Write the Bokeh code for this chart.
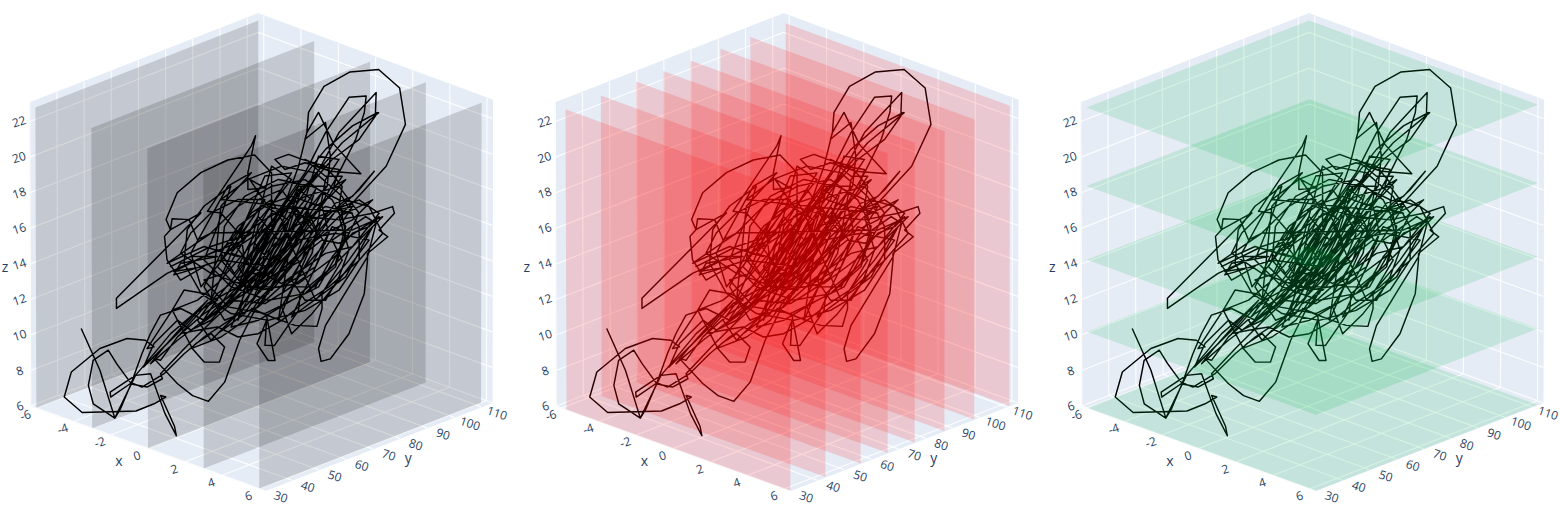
import numpy as np
from bokeh.plotting import figure
from bokeh.layouts import row
from bokeh.models import Range1d
from bokeh.core.properties import value
from bokeh.embed import file_html
from bokeh.resources import INLINE

path_x = [-4.65,-4.17,-2.83,-3.32,-3.36,-3.07,-2.85,-2.59,-2.06,-1.45,-.92,-.39,.22,.75,1.27,1.89,2.59,3.07,2.41,1.71,1.23,.75,.13,-.57,-1.1,-1.62,-2.28,
-2.94,-2.76,-2.98,-3.46,-4.17,-4.91,-5.1,-4.06,-3.36,-2.76,-2.76,-2.46,-2.59,-.74,-.05,-1.85,-2.85,-3.24,-3.9,-3.89,-3.38,-2.94,-2.54,-2.59,-1.93,-1.27,-.66,-.04,
-.66,-1.45,-2.15,-2.59,-2.76,-2.15,-1.75,-1.34,-.92,-.53,-.13,.31,.83,1.36,1.97,2.41,2.98,2.59,1.93,1.18,.57,-.04,-.66,-1.45,-1.97,-2.5,-3.07,-3.38,-3.73,-3.95,-4.34,-4.47,-4.34,-2.83,-3.24,-2.76,-2.32,-1.71,
-1.1,-1.45,-1.97,-2.28,-2.15,-1.75,-1.45,-1.05,-.92,-1.27,-1.67,-1.8,-1.01,-.39,.04,.66,1.18,1.62,2.06,2.15,1.71,1.1,.75,.39,.66,1.18,1.84,2.63,1.93,1.53,1.23,1.18,1.71,1.84,1.75,1.18,.57,.04,-.57,
.57,1.01,1.23,1.27,.98,.69,1.27,3.04,3.79,3.29,2.81,2.41,1.71,1.01,.31,-.39,-1.1,-.57,-.04,.57,1.18,1.71,2.32,2.7,2.72,2.5,2.06,1.62,1.01,.31,-.31,-.92,-1.53,-1.01,-.39,.22,.83,1.45,2.06,2.73,3.01,3.1,2.15,1.18,.31,
.31,-.13,-.83,-1.53,-2.15,-2.44,-2.32,-2.48,-2.41,-2.06,-1.45,-2.24,-1.1,-.57,-1.45,-2.41,-1.27,-1.62,-1.84,-2.28,-2.32,-1.53,-3.73,-3.73,-2.41,-1.27,-.39,-1.01,-1.36,-.22,-.11,-.31,-.31,.13,-.26,.22,
1.18,2.06,2.94,3.46,3.51,3.11,3.33,2.81,2.81,2.72,2.32,1.84,1.6,1.53,1.71,2.32,2.81,3.03,2.76,1.89,2.15,1.62,1.62,1.49,.92,.31,-.22,.18,.39,.22,-.07,.18,.13,.38,1.01,1.05,1.89,2.59,3.2,2.41,
-1.27,-.57,.31,1.18,1.89,2.24,1.97,1.18,.13,-.83,-1.45,-.92,-.04,.48,-.39,.39,1.18,1.53,.57,1.18,1.89,2.32,1.53,.83,-.04,-.75,-.39,-1.1,-.57,-.04,.57,1.01,.48,.04,.66,1.01,1.36,.75,.22,-.22,.31,.75,.13,-.57,-1.01,-.66,.04,.48,-.04,-.48,.13,.66,1.27,1.71,1.18,.57,-.22,-.75,-.22,.31,.83,.31,-.39,-1.1,-1.62,-1.27,-.75,-.13,.66,1.45,2.24,2.85,3.2,2.59,1.8,1.01,.57,-.04,-.57,-1.1,-1.62,-2.06,-1.36,-.57,.31,.92,1.71,2.41,
-1.01,-.31,.57,1.45,2.15,2.59,2.59,2.06,1.18,.22,-.75,-1.53,-1.97,-1.89,-1.45,-.75,-1.1,-1.45,-.75,.22,1.18,1.97,2.24,2.06,1.36,.48,-.39,-.92,-1.01,-.39,.57,1.45,1.8,1.62,.83,.04,-.48,-.39,.31,1.1,1.36,.92,.22,-.13,.31,.83,.57,1.45,2.32,2.94,2.24,.83,1.62,2.41,1.71,.48,.75,1.71,1.01,-.57,-.04,.83,.13,-1.27,-1.01,-.22,-.83,-1.8,-1.53,-.57,.13,-.57,-1.27,-1.8,-2.06,-1.27,-.04,1.01,2.06,2.59,2.06,1.18,.13,-.92,-1.45,-.92,-.04,.83,1.71,2.41,3.11,2.59,1.53,.48,-.39,-1.1,-.04,1.01,1.97,2.85,2.06,1.36,.83,.57,1.36,1.71,2.06,1.53,1.18,.48,-.22,-.75,.13,.83,.31,
-.57,.13,.75,.31,-.22,-.75,-.04,.57,1.1,.75,.22,-.31,.39,1.01,1.45,1.01,.39,.04,.66,1.27,1.8,2.15,1.71,1.18,1.53,2.06,1.93,2.24,1.84,1.45,.92,.31,-1.01,-1.8,-2.24,-2.06,-1.1,-1.8,-2.32,-1.27,-.22,-.92,-.57,.22,-.04,-.66,-1.27,-1.8,-2.15,-2.76,-3.03,-2.68,-1.97,-1.36,-1.8,-2.5,-2.85,-2.15,-1.45,-.75,.13,.83,1.45,1.89,2.41,2.85,3.11,2.59,2.06,1.62,1.18,.83,1.18,1.71,2.06,2.32,2.06,2.59,2.94,2.41,1.71,1.01,.48,-.04,.13,.66,.31,-.22,-.57,-.22,.31,.83,1.18,.75]
path_y = [39.6,42.8,38.6,44.1,48.1,49.9,51.4,53.1,56.5,60.5,64,67.4,71.4,74.9,78.3,82.3,86.9,90.1,85.8,81.2,78,74.9,70.9,66.3,62.8,59.4,55.1,
50.8,52,50.5,47.4,42.8,37.9,36.7,35.7,40.9,45.6,52,54,53.1,45,40.8,49.4,51.4,48.8,44.5,44.6,47.9,50.8,53.4,53.1,57.4,61.7,65.7,69.7,
65.7,60.5,56,53.1,52,56,58.5,61.2,64,66.6,69.1,72,75.4,78.9,82.9,85.8,89.5,86.9,82.6,77.7,73.7,69.7,65.7,60.5,57.1,53.7,49.9,47.9,45.6,44.2,41.6,40.8,41.6,38.6,48.8,52,54.8,58.8,
62.8,60.5,57.1,55.1,56,58.5,60.5,63.1,64,61.7,59.1,58.3,63.4,67.4,70.3,74.3,77.7,80.6,83.5,84,81.2,77.2,74.9,72.6,74.3,77.7,82,87.2,82.6,80,78,77.7,81.2,82,81.5,77.7,73.7,70.3,66.3,
73.7,76.6,78,78.3,85.8,97,103,98,94.8,91.5,88.3,85.8,81.2,76.6,72,67.4,62.8,66.3,69.7,73.7,77.7,81.2,85.2,88.6,87.8,86.3,83.5,80.6,76.6,72,68,64,60,63.4,67.4,71.4,75.4,79.5,83.5,91.9,89.7,90.2,84,77.7,72,
72,69.1,64.6,60,56,54.1,54.8,53.8,54.2,56.5,60.5,55.4,62.8,66.3,60.5,54.2,61.7,59.4,58,55.1,54.8,60,45.6,45.6,54.2,61.7,67.4,63.4,61.1,68.6,69.3,68,68,70.9,68.3,71.4,
77.7,83.5,89.2,92.6,92.9,90.3,91.8,88.3,88.3,87.8,85.2,82,80.4,80,81.2,85.2,88.3,89.8,88,82.3,84,80.6,80.6,79.7,76,72,68.6,71.1,72.6,71.4,69.5,71.1,70.9,72.5,76.6,76.9,82.3,86.9,90.9,85.8,
61.7,66.3,72,77.7,82.3,84.6,82.9,77.7,70.9,64.6,60.5,64,69.7,73.2,67.4,72.6,77.7,80,73.7,77.7,82.3,85.2,80,75.4,69.7,65.1,67.4,62.8,66.3,69.7,73.7,76.6,73.2,70.3,74.3,76.6,78.9,74.9,71.4,68.6,72,74.9,70.9,66.3,63.4,65.7,70.3,73.2,69.7,66.8,70.9,74.3,78.3,81.2,77.7,73.7,68.6,65.1,68.6,72,75.4,72,67.4,62.8,59.4,61.7,65.1,69.1,74.3,79.5,84.6,88.6,90.9,86.9,81.7,76.6,73.7,69.7,66.3,62.8,59.4,56.5,61.1,66.3,72,76,81.2,85.8,
63.4,68,73.7,79.5,84,86.9,86.9,83.5,77.7,71.4,65.1,60,57.1,57.7,60.5,65.1,62.8,60.5,65.1,71.4,77.7,82.9,84.6,83.5,78.9,73.2,67.4,64,63.4,67.4,73.7,79.5,81.7,80.6,75.4,70.3,66.8,67.4,72,77.2,78.9,76,71.4,69.1,72,75.4,73.7,79.5,85.2,89.2,84.6,75.4,80.6,85.8,81.2,73.2,74.9,81.2,76.6,66.3,69.7,75.4,70.9,61.7,63.4,68.6,64.6,58.3,60,66.3,70.9,66.3,61.7,58.3,56.5,61.7,69.7,76.6,83.5,86.9,83.5,77.7,70.9,64,60.5,64,69.7,75.4,81.2,85.8,90.3,86.9,80,73.2,67.4,62.8,69.7,76.6,82.9,88.6,83.5,78.9,75.4,73.7,78.9,81.2,83.5,80,77.7,73.2,68.6,65.1,70.9,75.4,72,
66.3,70.9,74.9,72,68.6,65.1,69.7,73.7,77.2,74.9,71.4,68,72.6,76.6,79.5,76.6,72.6,70.3,74.3,78.3,81.7,84,81.2,77.7,80,83.5,82.6,84.6,82,79.5,76,72,63.4,58.3,55.4,56.5,62.8,58.3,54.8,61.7,68.6,64,66.3,71.4,69.7,65.7,61.7,58.3,56,52,50.2,52.5,57.1,61.1,58.3,53.7,51.4,56,60.5,65.1,70.9,75.4,79.5,82.3,85.8,88.6,90.3,86.9,83.5,80.6,77.7,75.4,77.7,81.2,83.5,85.2,83.5,86.9,89.2,85.8,81.2,76.6,73.2,69.7,70.9,74.3,72,68.6,66.3,68.6,72,75.4,77.7,74.9]
path_z = [10.26,8.01,6.2,6.2,7.29,8.91,9.99,10.98,11.34,10.71,11.79,12.87,14.85,16.29,17.91,19.35,20.43,21.87,21.15,19.89,18.63,17.19,15.57,13.95,12.69,11.79,11.25,
9.18,9.27,9.63,9.72,9.18,7.92,6.57,6.2,6.2,6.2,6.21,6.57,6.66,6.2,6.2,6.2,7.83,7.74,6.84,6.57,7.29,7.11,7.56,7.83,9.27,10.62,11.79,13.23,
12.15,11.07,9.81,8.55,8.64,7.29,6.66,6.35,7.38,9.63,11.25,12.51,13.77,15.39,17.01,17.37,18.72,17.73,16.47,14.67,13.41,12.15,10.89,9.81,8.91,7.83,7.11,7.38,8.37,9.09,8.55,7.2,6.21,6.2,7.74,8.91,9.99,11.07,
11.79,12.15,12.33,11.25,10.71,9.18,8.46,8.46,9.27,9.99,9.45,9.18,9.81,10.71,11.97,13.23,14.49,15.57,16.83,17.91,18.99,19.35,19.62,19.35,18.81,19.17,18.72,18.59,20.16,21.87,20.79,20.43,21.33,19.53,17.91,16.47,15.03,13.77,12.69,
16.47,18.99,20.79,21.87,22.7,22.7,22.7,22.7,21.24,18.99,17.91,17.01,15.57,14.13,13.05,12.15,11.25,13.05,14.85,16.83,18.63,20.79,22.68,22.7,21.87,20.43,18.63,17.01,15.39,13.77,12.51,11.43,10.53,12.15,13.77,15.39,17.01,18.45,20.79,22.7,21.87,21.87,20.25,17.91,15.75,
18.63,19.58,19.31,18.63,17.55,16.11,15.57,15.21,13.95,12.87,13.59,13.32,14.49,14.13,14.67,13.77,15.39,15.03,16.11,16.16,15.57,16.47,11.88,11.34,13.23,14.31,15.03,16.47,16.56,20.07,20.61,18.63,17.73,17.82,18.27,16.83,
16.29,16.11,16.47,16.83,16.47,15.57,15.21,14.31,13.95,12.15,9.99,8.64,8.51,9.18,10.44,12.51,14.13,15.93,16.29,15.03,13.95,12.15,11.34,10.39,10.44,10.89,11.34,10.98,8.55,8.55,9.45,10.71,9.36,9.36,11.25,12.15,13.59,15.03,16.29,15.57,
15.39,16.83,17.91,18.27,17.19,15.75,13.77,12.15,11.07,11.43,12.87,13.23,16.29,15.03,12.15,13.59,16.83,15.39,12.15,13.05,15.75,15.39,12.51,11.79,10.71,10.35,12.15,13.59,15.39,17.19,17.73,16.47,14.31,12.87,15.39,17.73,17.19,14.13,12.15,11.61,14.31,16.11,16.83,15.75,14.31,13.23,15.03,16.47,13.95,12.51,13.59,14.67,16.11,14.85,13.59,12.69,13.59,15.03,16.47,17.19,15.03,13.23,13.23,12.15,10.71,9.63,10.71,12.51,14.13,15.75,17.19,16.83,15.39,13.95,12.51,11.43,10.71,9.99,9.81,10.35,10.17,9.99,11.61,12.51,14.67,15.75,16.83,16.47,
17.19,18.27,18.99,18.63,17.37,15.75,13.95,12.33,11.25,10.71,11.07,12.15,13.77,15.57,16.83,17.91,15.75,13.95,12.51,11.79,12.15,13.59,15.39,17.19,17.91,18.27,17.37,15.75,13.95,12.51,12.51,13.59,15.39,16.83,17.37,16.83,15.39,13.77,13.05,13.95,15.57,16.83,16.29,14.85,13.77,14.85,15.93,11.79,13.95,15.75,13.05,10.89,14.31,16.83,16.47,10.71,14.31,17.91,17.91,10.71,15.75,18.63,18.45,11.79,16.83,18.63,17.91,14.31,12.51,15.03,17.19,17.19,16.47,15.39,14.31,13.23,12.33,12.69,14.31,16.47,17.91,17.37,16.11,14.67,12.51,10.71,11.43,13.05,14.31,14.67,16.47,17.19,16.29,13.95,11.07,9.99,12.15,15.03,15.39,15.03,12.87,11.07,9.99,11.43,14.31,18.27,19.35,19.53,17.19,15.39,13.95,14.31,16.47,18.27,18.99,
12.33,15.39,17.37,15.39,13.23,11.79,14.31,16.47,17.91,15.57,13.77,11.97,14.31,16.29,17.73,15.03,12.87,11.61,13.95,15.93,17.37,18.45,18.45,19.35,18.99,18.81,17.91,18.27,17.37,16.83,15.39,13.59,13.95,13.41,13.14,13.77,14.13,14.13,13.59,14.67,15.39,14.31,14.67,15.75,13.59,12.15,10.71,10.17,10.71,9.45,8.19,8.91,10.35,11.79,10.89,9.27,8.37,9.63,10.71,11.79,11.61,12.51,12.51,14.13,15.39,15.75,16.29,15.57,14.85,15.03,14.31,12.87,11.79,11.79,13.05,14.49,16.29,16.83,17.19,16.11,15.39,14.31,13.23,12.69,14.31,16.29,16.47,15.03,13.59,12.51,12.33,13.59,15.39,17.01]

# the path was read on the plane through the middle of the box; these scale that read-off to the box
GAIN_XY, SHIFT_X, GAIN_Z = 1.045, 0.2, 1.048
path_x = [v * GAIN_XY * 1.024 + SHIFT_X for v in path_x]
path_y = [70 + (v - 70) * GAIN_XY for v in path_y]
path_z = [6 + (v - 6) * GAIN_Z for v in path_z]

x_ticks = [-6, -4, -2, 0, 2, 4, 6]
y_ticks = [30, 40, 50, 60, 70, 80, 90, 100, 110]
z_ticks = [6, 8, 10, 12, 14, 16, 18, 20, 22]
x_slices = [-6, -3, 0, 3, 6]
y_slices = [30, 43, 56, 66, 76, 87, 98, 111]
z_slices = [6, 10.3, 14.35, 18.5, 22.9]
XR, YR, ZR = (-6.3, 6.3), (30.0, 114.0), (6.0, 23.05)
SL_Z_TOP = 22.9
INK = "#2a3f5f"
WALL = "#E5ECF6"
FONT = value("Open Sans")

corners = [
    ((0, 0, 0), (30, 402)), ((1, 0, 0), (264, 493)), ((1, 1, 0), (492, 398)), ((0, 1, 0), (258, 322)),
    ((0, 0, 1), (30, 102)), ((1, 0, 1), (264, 189)), ((1, 1, 1), (492, 100)), ((0, 1, 1), (257, 12)),
]
A = []
for (a, b, c), (u, v) in corners:
    A.append([a, b, c, 1, 0, 0, 0, 0, -u * a, -u * b, -u * c, -u])
    A.append([0, 0, 0, 0, a, b, c, 1, -v * a, -v * b, -v * c, -v])
CAM = np.linalg.svd(np.array(A, float))[2][-1].reshape(3, 4)


def proj(x, y, z, off=0.0):
    x, y, z = np.broadcast_arrays(np.asarray(x, float), np.asarray(y, float), np.asarray(z, float))
    q = np.stack([(x - XR[0]) / (XR[1] - XR[0]), (y - YR[0]) / (YR[1] - YR[0]),
                  (z - ZR[0]) / (ZR[1] - ZR[0]), np.ones_like(x, dtype=float)])
    s = CAM @ q.reshape(4, -1)
    return (s[0] / s[2] + off).reshape(x.shape), (s[1] / s[2]).reshape(x.shape)


def quad(p, pts, off, **kw):
    xs, ys = proj(*np.array(pts, float).T, off)
    p.patch(list(xs), list(ys), **kw)


def seg(p, a, b, off, **kw):
    xs, ys = proj(*np.array([a, b], float).T, off)
    p.line(list(xs), list(ys), **kw)


def panel(i, off, kind, color):
    x0 = 520 * i
    p = figure(width=520, height=510, output_backend="svg", toolbar_location=None,
               x_range=Range1d(x0, x0 + 520), y_range=Range1d(510, 0),
               min_border=0, outline_line_color=None)
    p.axis.visible = False
    p.grid.visible = False
    p.background_fill_color = "white"
    xa, xb = XR; ya, yb = YR; za, zb = ZR
    wk = dict(fill_color=WALL, line_color=WALL, line_width=1)
    quad(p, [(xa, ya, za), (xb, ya, za), (xb, yb, za), (xa, yb, za)], off, **wk)
    quad(p, [(xa, ya, za), (xa, yb, za), (xa, yb, zb), (xa, ya, zb)], off, **wk)
    quad(p, [(xa, yb, za), (xb, yb, za), (xb, yb, zb), (xa, yb, zb)], off, **wk)
    g = dict(line_color="white", line_width=1.2, line_alpha=0.85)
    for t in x_ticks:
        seg(p, (t, ya, za), (t, yb, za), off, **g)
        seg(p, (t, yb, za), (t, yb, zb), off, **g)
    for t in y_ticks:
        seg(p, (xa, t, za), (xb, t, za), off, **g)
        seg(p, (xa, t, za), (xa, t, zb), off, **g)
    for t in z_ticks:
        seg(p, (xa, ya, t), (xa, yb, t), off, **g)
        seg(p, (xa, yb, t), (xb, yb, t), off, **g)

    lx, ly = proj(path_x, path_y, path_z, off)
    p.line(list(lx), list(ly), line_color="black", line_width=1.45, line_join="round")

    sk = dict(fill_color=color, fill_alpha=0.15, line_color=None)
    zt = SL_Z_TOP
    if kind == "x":
        for s in x_slices:
            quad(p, [(s, 30, 6), (s, 112, 6), (s, 112, zt), (s, 30, zt)], off, **sk)
    elif kind == "y":
        for s in y_slices:
            quad(p, [(-5.75, s, 6), (6.3, s, 6), (6.3, s, zt), (-5.75, s, zt)], off, **sk)
    else:
        for s in z_slices:
            quad(p, [(-6, 30, s), (6.3, 30, s), (6.3, 112, s), (-6, 112, s)], off, **sk)

    tk = dict(text_font=FONT, text_font_size="12px", text_color=INK, text_align="center", text_baseline="middle")
    xs, ys = proj(x_ticks, [ya] * len(x_ticks), [za] * len(x_ticks), off)
    p.text(list(xs - 11), list(ys + 7), text=[str(t) for t in x_ticks], angle=18, angle_units="deg", **tk)
    xs, ys = proj([xb] * len(y_ticks), y_ticks, [za] * len(y_ticks), off)
    p.text(list(xs + 16), list(ys + 6), text=[str(t) for t in y_ticks], angle=-18, angle_units="deg", **tk)
    xs, ys = proj([xa] * len(z_ticks), [ya] * len(z_ticks), z_ticks, off)
    p.text(list(xs - 11), list(ys), text=[str(t) for t in z_ticks], angle=18, angle_units="deg", **tk)
    tt = dict(text_font=FONT, text_font_size="14px", text_color=INK, text_align="center", text_baseline="middle")
    xs, ys = proj([(xa + xb) / 2], [ya], [za], off)
    p.text(list(xs - 29), list(ys + 12), text=["x"], **tt)
    xs, ys = proj([xb], [(ya + yb) / 2], [za], off)
    p.text(list(xs + 30), list(ys + 11), text=["y"], **tt)
    xs, ys = proj([xa], [ya], [(za + zb) / 2], off)
    p.text([max(float(xs[0] - 29), x0 + 4.5)], list(ys + 12), text=["z"], **tt)
    return p


plots = [panel(0, 0.0, "x", "black"), panel(1, 525.5, "y", "#ff0000"), panel(2, 1051.0, "z", "#00b449")]
layout = row(*plots, spacing=0)
open("out.html", "w").write(file_html(layout, INLINE))
